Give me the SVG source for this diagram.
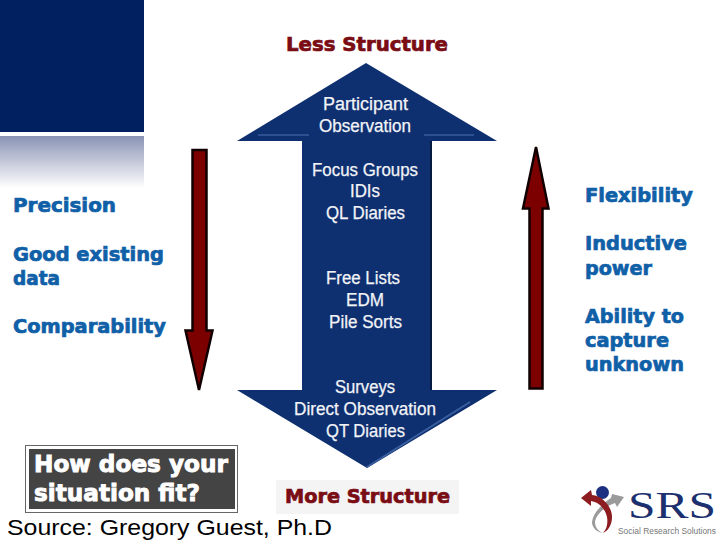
<svg xmlns="http://www.w3.org/2000/svg" width="720" height="540" viewBox="0 0 720 540">
<style>
text{font-family:"DejaVu Sans","Liberation Sans",sans-serif}
.blue{font-weight:700;font-size:19px;fill:#1060a8;stroke:#1060a8;stroke-width:.7px}
.red{font-weight:700;font-size:19px;fill:#7a0c14;stroke:#7a0c14;stroke-width:.7px}
.w{font-family:"Liberation Sans",Arial,sans-serif;font-size:18px;fill:#f2f4f8;stroke:#f2f4f8;stroke-width:.25px}
.fit{font-weight:700;font-size:23px;fill:#fff;stroke:#fff;stroke-width:.9px}
.arr{fill:#7d0000;stroke:#120000;stroke-width:2.5;stroke-linejoin:miter}
</style>
<defs>
<linearGradient id="fade" x1="0" y1="0" x2="0" y2="1"><stop offset="0" stop-color="#8a93b5"/><stop offset="1" stop-color="#fff"/></linearGradient>
</defs>
<rect width="720" height="540" fill="#fff"/>
<g id="banner">
<rect x="0" y="0" width="144" height="132" fill="#002060"/>
<rect x="0" y="136" width="144" height="52" fill="url(#fade)"/>
</g>
<g id="connectors">
<path class="arr" d="M192.500 150H206.500V330.500H212.500L199 390L185.500 330.500H192.500Z"/>
<path class="arr" d="M529.500 388.500H542.500V208.500H548.500L536 147L523 208.500H529.500Z"/>
</g>
<g id="structure-arrow">
<path d="M366 63L497 141H431V390H497L367 468L237 390H302V141H237Z" fill="#0f3070"/>
<path d="M431 141V390" stroke="#061a40" stroke-width="2" fill="none"/>
<path d="M258 135H309M424 135H474" stroke="#2c5090" stroke-width="2" fill="none"/>
<path d="M367 467L470 402" stroke="#3a5f9e" stroke-width="2" fill="none"/>
<text class="w" x="323" y="110" textLength="85" lengthAdjust="spacingAndGlyphs">Participant</text>
<text class="w" x="319" y="132" textLength="92" lengthAdjust="spacingAndGlyphs">Observation</text>
<text class="w" x="312" y="176" textLength="106" lengthAdjust="spacingAndGlyphs">Focus Groups</text>
<text class="w" x="350" y="197" textLength="30" lengthAdjust="spacingAndGlyphs">IDIs</text>
<text class="w" x="326" y="219" textLength="79" lengthAdjust="spacingAndGlyphs">QL Diaries</text>
<text class="w" x="326" y="284" textLength="74" lengthAdjust="spacingAndGlyphs">Free Lists</text>
<text class="w" x="346" y="306" textLength="38" lengthAdjust="spacingAndGlyphs">EDM</text>
<text class="w" x="329" y="328" textLength="73" lengthAdjust="spacingAndGlyphs">Pile Sorts</text>
<text class="w" x="335" y="393" textLength="60" lengthAdjust="spacingAndGlyphs">Surveys</text>
<text class="w" x="294" y="415" textLength="142" lengthAdjust="spacingAndGlyphs">Direct Observation</text>
<text class="w" x="326" y="437" textLength="79" lengthAdjust="spacingAndGlyphs">QT Diaries</text>
</g>
<g id="less-structure"><text class="red" x="286" y="51" textLength="162" lengthAdjust="spacingAndGlyphs">Less Structure</text></g>
<g id="more-structure">
<rect x="276" y="480" width="183" height="34" fill="#f4f4f4"/>
<text class="red" x="285" y="503" textLength="165" lengthAdjust="spacingAndGlyphs">More Structure</text>
</g>
<g id="left-labels">
<text class="blue" x="13" y="212" textLength="103" lengthAdjust="spacingAndGlyphs">Precision</text>
<text class="blue" x="13" y="261" textLength="151" lengthAdjust="spacingAndGlyphs">Good existing</text>
<text class="blue" x="13" y="285" textLength="47" lengthAdjust="spacingAndGlyphs">data</text>
<text class="blue" x="13" y="333" textLength="153" lengthAdjust="spacingAndGlyphs">Comparability</text>
</g>
<g id="right-labels">
<text class="blue" x="585" y="202" textLength="108" lengthAdjust="spacingAndGlyphs">Flexibility</text>
<text class="blue" x="585" y="250" textLength="102" lengthAdjust="spacingAndGlyphs">Inductive</text>
<text class="blue" x="585" y="275" textLength="67" lengthAdjust="spacingAndGlyphs">power</text>
<text class="blue" x="585" y="323" textLength="99" lengthAdjust="spacingAndGlyphs">Ability to</text>
<text class="blue" x="585" y="347" textLength="84" lengthAdjust="spacingAndGlyphs">capture</text>
<text class="blue" x="585" y="371" textLength="99" lengthAdjust="spacingAndGlyphs">unknown</text>
</g>
<g id="fit-box">
<rect x="25.500" y="445.500" width="212" height="67" fill="#fff" stroke="#666" stroke-width="1"/>
<rect x="29" y="449" width="206" height="60" fill="#444"/>
<text class="fit" x="34" y="472" textLength="194" lengthAdjust="spacingAndGlyphs">How does your</text>
<text class="fit" x="34" y="501" textLength="166" lengthAdjust="spacingAndGlyphs">situation fit?</text>
</g>
<g id="source"><text x="7" y="535" font-size="22.500" fill="#000" style="font-family:'Liberation Sans',Arial,sans-serif" textLength="325" lengthAdjust="spacingAndGlyphs">Source: Gregory Guest, Ph.D</text></g>
<g id="logo">
<path d="M611 498C602 504 593 513 592 522C592 528 597 532 603 533C598 531 595 527 595 522C596 514 606 506 615 503L617 507L624 497L612 494Z" fill="#9a9a9a"/>
<circle cx="602.500" cy="492.500" r="6.500" fill="#1c2f80"/>
<path d="M581 498L591 490L592 495C603 496 612 507 612 517C612 525 608 531 603 533C607 529 608 523 607 517C605 508 598 502 591 501L591 506Z" fill="#8c1c20"/>
<text x="628" y="518" font-size="38" fill="#1c2f6e" style="font-family:'Liberation Serif',serif" textLength="88" lengthAdjust="spacingAndGlyphs">SRS</text>
<text x="618" y="534" font-size="8.500" fill="#777" style="font-family:'Liberation Sans',sans-serif" textLength="98" lengthAdjust="spacingAndGlyphs">Social Research Solutions</text>
</g>
</svg>
